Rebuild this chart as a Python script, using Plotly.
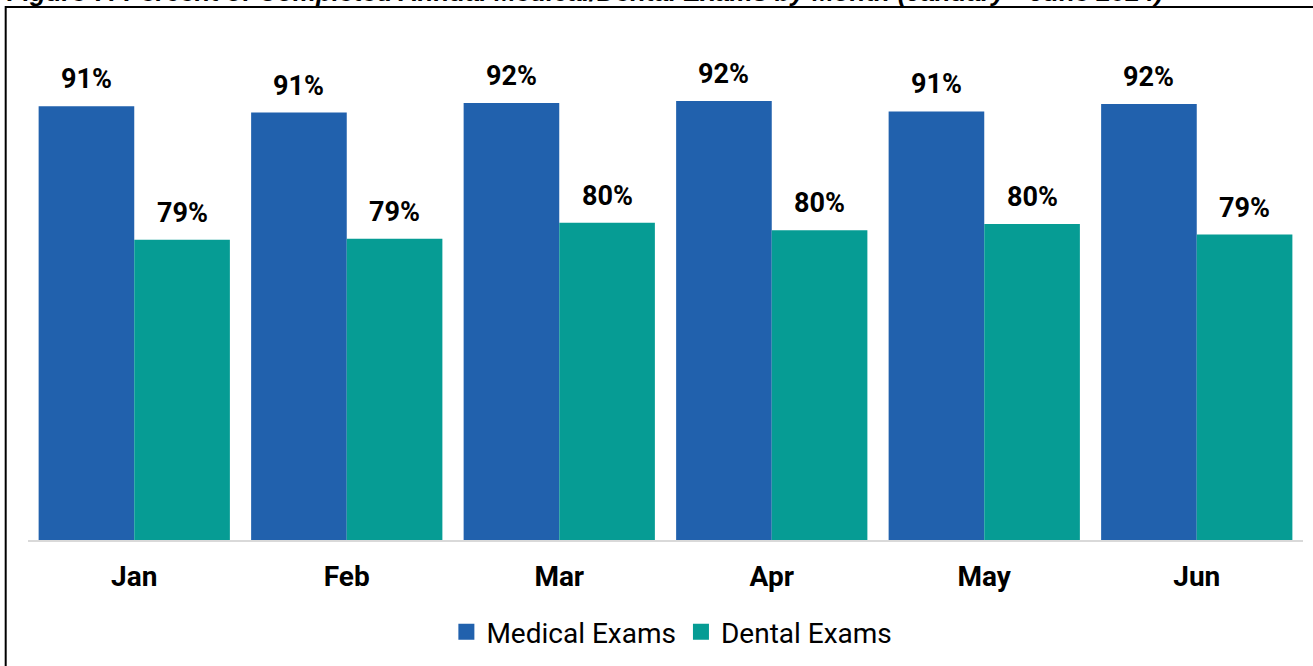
import plotly.graph_objects as go

months = ['Jan', 'Feb', 'Mar', 'Apr', 'May', 'Jun']
medical = [91.4, 90.8, 91.7, 91.9, 90.9, 91.6]
dental = [78.8, 78.9, 80.4, 79.7, 80.3, 79.3]
series_names = ['Medical Exams', 'Dental Exams']
title_text = 'Figure 7: Percent of Completed Annual Medical/Dental Exams by Month (January - June 2024)'

colors = ['#2161AD', '#069C94']
bar_gap = 0.1
font_name = 'Roboto'

fig = go.Figure()
for name, vals, col in zip(series_names, [medical, dental], colors):
    fig.add_trace(go.Bar(x=months, y=vals, name=name, showlegend=False,
                         marker=dict(color=col, line=dict(width=0))))
# legend entries with bigger square swatches than bar traces give
for name, col in zip(series_names, colors):
    fig.add_trace(go.Scatter(x=[None], y=[None], mode='markers', name=name,
                             marker=dict(symbol='square', size=16, color=col)))

# value labels sit well above the bars, so draw them as annotations
half = (1 - bar_gap) / 4
for i, (m, d) in enumerate(zip(medical, dental)):
    for off, v in [(-half, m), (half, d)]:
        fig.add_annotation(
            x=i + off, y=v, xref='x', yref='y',
            text=f'{round(v)}%', showarrow=False,
            yanchor='bottom', yshift=9,
            font=dict(family=font_name, size=27, color='black', weight='bold'),
        )

# title, mostly cut off at the top of the picture
fig.add_annotation(
    x=-0.018, y=1.1615, xref='paper', yref='paper', xanchor='left', yanchor='middle',
    text=title_text, showarrow=False,
    font=dict(family='Liberation Sans', size=26, color='black', weight='bold', style='italic'),
)

# frame around the chart
fig.add_shape(
    type='rect', xref='paper', yref='paper',
    x0=-0.0175, x1=1.02, y0=-0.3, y1=1.129,
    line=dict(color='black', width=2), fillcolor='rgba(0,0,0,0)',
)

fig.update_layout(
    width=1313, height=666,
    margin=dict(l=28, r=10, t=68, b=126, autoexpand=False),
    plot_bgcolor='white', paper_bgcolor='white',
    barmode='group', bargap=bar_gap, bargroupgap=0,
    font=dict(family=font_name, color='black'),
    showlegend=True,
    legend=dict(
        orientation='h', x=0.505, xanchor='center',
        y=-0.142, yanchor='top', itemsizing='trace',
        font=dict(family=font_name, size=28, color='black'),
    ),
    xaxis=dict(
        showline=True, linecolor='#d9d9d9', linewidth=2,
        ticks='', showgrid=False,
        tickfont=dict(family=font_name, size=28, color='black', weight='bold'),
        ticklabelstandoff=10,
    ),
    yaxis=dict(
        range=[50.5, 95], showticklabels=False, showgrid=False,
        zeroline=False, showline=False, ticks='',
    ),
)

fig.write_html('out.html', config={'displayModeBar': False},
               post_script="document.body.style.margin='0';")
